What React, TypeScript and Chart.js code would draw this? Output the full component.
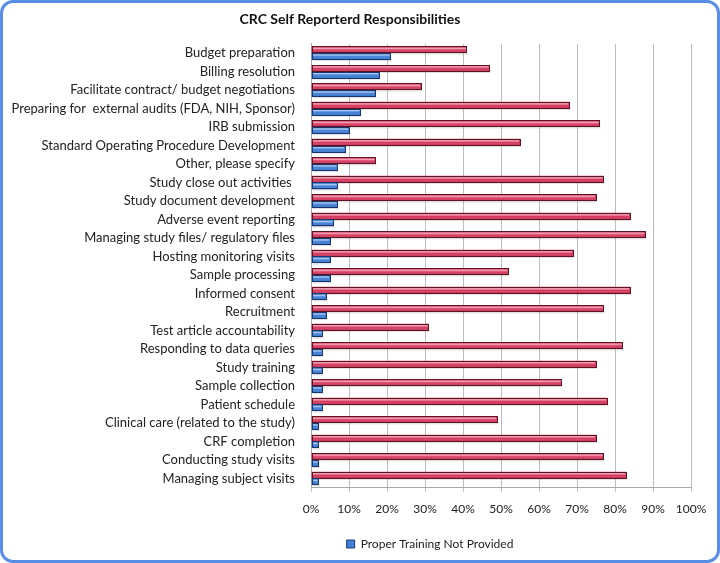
import React, { useEffect, useRef } from "react";
import { Chart, registerables } from "chart.js";

Chart.register(...registerables);

const categories = [
  "Budget preparation",
  "Billing resolution",
  "Facilitate contract/ budget negotiations",
  "Preparing for  external audits (FDA, NIH, Sponsor)",
  "IRB submission",
  "Standard Operating Procedure Development",
  "Other, please specify",
  "Study close out activities ",
  "Study document development",
  "Adverse event reporting",
  "Managing study files/ regulatory files",
  "Hosting monitoring visits",
  "Sample processing",
  "Informed consent",
  "Recruitment",
  "Test article accountability",
  "Responding to data queries",
  "Study training",
  "Sample collection",
  "Patient schedule",
  "Clinical care (related to the study)",
  "CRF completion",
  "Conducting study visits",
  "Managing subject visits",
];

const responsibilityValues = [
  41, 47, 29, 68, 76, 55, 17, 77, 75, 84, 88, 69, 52, 84, 77, 31, 82, 75, 66, 78, 49, 75, 77, 83,
];

const trainingNotProvidedValues = [
  21, 18, 17, 13, 10, 9, 7, 7, 7, 6, 5, 5, 5, 4, 4, 3, 3, 3, 3, 3, 2, 2, 2, 2,
];

const title = "CRC Self Reporterd Responsibilities";
const legendLabel = "Proper Training Not Provided";

const FONT = "Lato, 'Open Sans', sans-serif";

// Glossy 3D-like shading drawn over each bar, using the library's element geometry.
const barShading = {
  id: "barShading",
  afterDatasetsDraw(chart: any) {
    const ctx = chart.ctx;
    chart.data.datasets.forEach((ds: any, di: number) => {
      const meta = chart.getDatasetMeta(di);
      meta.data.forEach((el: any) => {
        const { x, y, base, height } = el.getProps(["x", "y", "base", "height"], true);
        const left = Math.min(x, base);
        const right = Math.max(x, base);
        const top = y - height / 2;
        const h = height;
        ctx.save();
        // shadow below bar
        ctx.fillStyle = "rgba(0,0,0,0.12)";
        ctx.fillRect(left + 1, top + h, right - left, 1.5);
        const g = ctx.createLinearGradient(0, top, 0, top + h);
        g.addColorStop(0, "rgba(255,255,255,0.05)");
        g.addColorStop(0.3, "rgba(255,255,255,0.55)");
        g.addColorStop(0.55, "rgba(255,255,255,0.0)");
        g.addColorStop(1, "rgba(0,0,0,0.3)");
        ctx.fillStyle = g;
        ctx.fillRect(left + 1, top + 1, right - left - 2, h - 2);
        ctx.strokeStyle = ds.borderColor;
        ctx.lineWidth = 1;
        ctx.strokeRect(Math.round(left) + 0.5, Math.round(top) + 0.5, Math.round(right - left) - 1, Math.round(h) - 1);
        ctx.restore();
      });
    });
  },
};

// Shift the legend to the right, matching the reference's legend placement.
const legendShift = {
  id: "legendShift",
  afterLayout(chart: any) {
    const lg = chart.legend;
    if (lg) {
      lg.left += 80;
      lg.right += 80;
    }
  },
};

export default function App() {
  const canvasRef = useRef<HTMLCanvasElement | null>(null);

  useEffect(() => {
    if (!canvasRef.current) return;
    const chart = new Chart(canvasRef.current, {
      type: "bar",
      data: {
        labels: categories,
        datasets: [
          {
            label: "Responsibility",
            data: responsibilityValues,
            backgroundColor: "#d93a60",
            borderColor: "#5e1222",
            borderWidth: 0,
            categoryPercentage: 0.72,
            barPercentage: 1,
          },
          {
            label: legendLabel,
            data: trainingNotProvidedValues,
            backgroundColor: "#3f80d8",
            borderColor: "#1a3670",
            borderWidth: 0,
            categoryPercentage: 0.72,
            barPercentage: 1,
          },
        ],
      },
      plugins: [barShading, legendShift],
      options: {
        indexAxis: "y",
        animation: false,
        responsive: false,
        maintainAspectRatio: false,
        layout: { padding: { left: 6, right: 26, top: 0, bottom: 0 } },
        plugins: {
          title: {
            display: true,
            text: title,
            color: "#111",
            font: { family: FONT, size: 14, weight: "bold" },
            padding: { top: 8, bottom: 16 },
          },
          legend: {
            position: "bottom",
            labels: {
              filter: (item) => item.text === legendLabel,
              boxWidth: 8,
              boxHeight: 8,
              color: "#222",
              font: { family: FONT, size: 12 },
              padding: 12,
              generateLabels: (c) => {
                const items = Chart.defaults.plugins.legend.labels.generateLabels(c);
                return items.map((it: any) => ({ ...it, strokeStyle: "#1a3670", lineWidth: 1 }));
              },
            },
          },
          tooltip: { enabled: false },
        },
        scales: {
          x: {
            min: 0,
            max: 100,
            ticks: {
              stepSize: 10,
              callback: (v) => `${v}%`,
              color: "#222",
              font: { family: FONT, size: 12 },
              padding: 10,
            },
            grid: { color: "#bdbdbd", tickLength: 4 },
            border: { color: "#a8a8a8" },
          },
          y: {
            ticks: {
              autoSkip: false,
              color: "#222",
              font: { family: FONT, size: 13 },
              padding: 8,
            },
            grid: { display: false },
            border: { color: "#a8a8a8" },
            afterFit: (scale) => {
              scale.width = 302;
            },
          },
        },
      },
    });
    return () => chart.destroy();
  }, []);

  return (
    <div
      style={{
        position: "fixed",
        left: 0,
        top: 0,
        width: 720,
        height: 563,
        boxSizing: "border-box",
        border: "3px solid #5a8de6",
        borderRadius: 13,
        background: "#fff",
        overflow: "hidden",
      }}
    >
      <canvas ref={canvasRef} width={714} height={557} style={{ display: "block" }} />
    </div>
  );
}
